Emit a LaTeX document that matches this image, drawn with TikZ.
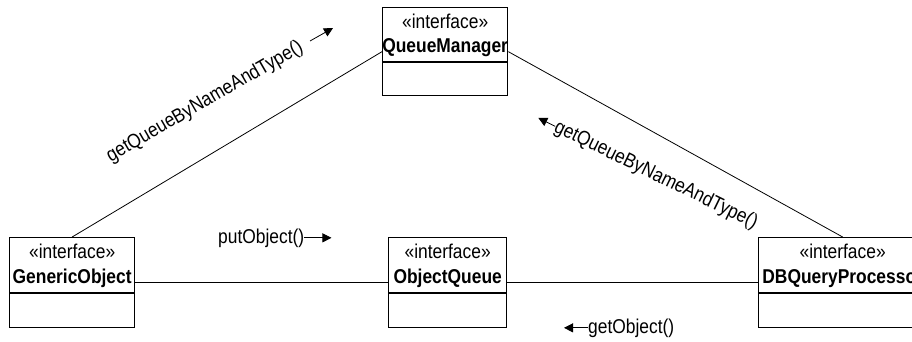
\documentclass[tikz,border=0pt]{standalone}
\usepackage{fontspec}
\setmainfont{Liberation Sans}[FakeStretch=0.87]
\usetikzlibrary{arrows.meta,calc}
\tikzset{
  umlbox/.style={draw, line width=1.3pt, inner sep=0pt, anchor=north west},
  divline/.style={line width=1.3pt},
  conn/.style={line width=0.8pt},
  txt/.style={inner sep=0pt, font=\fontsize{20}{24}\selectfont},
  stereo/.style={txt, anchor=base},
  cname/.style={txt, anchor=base, font=\fontsize{20}{24}\selectfont\bfseries},
  msgarrow/.style={line width=0.8pt, -{Triangle[length=9pt,width=9pt]}}
}
\begin{document}
\begin{tikzpicture}[x=1pt,y=-1pt]
\useasboundingbox (0,0) rectangle (912,341);
\clip (0,0) rectangle (912,341);
\fill[white] (0,0) rectangle (912,341);

% boxes
\node[umlbox, minimum width=125, minimum height=88] (qm) at (382,7) {};
\node[umlbox, minimum width=125, minimum height=90] (go) at (9,237) {};
\node[umlbox, minimum width=118, minimum height=90] (oq) at (388,237) {};
\node[umlbox, minimum width=168, minimum height=90] (db) at (758,237) {};

% dividers
\draw[divline] ($(qm.north west)+(0,55)$) -- ($(qm.north east)+(0,55)$);
\draw[divline] ($(go.north west)+(0,56)$) -- ($(go.north east)+(0,56)$);
\draw[divline] ($(oq.north west)+(0,56)$) -- ($(oq.north east)+(0,56)$);
\draw[divline] ($(db.north west)+(0,56)$) -- ($(db.north east)+(0,56)$);

% texts
\node[stereo] (qms) at ($(qm.north)+(0,21)$) {«interface»};
\node[cname]  (qmn) at ($(qm.north)+(0,45)$) {QueueManager};
\node[stereo] (gos) at ($(go.north)+(0,21)$) {«interface»};
\node[cname]  (gon) at ($(go.north)+(0,46)$) {GenericObject};
\node[stereo] (oqs) at ($(oq.north)+(0,21)$) {«interface»};
\node[cname]  (oqn) at ($(oq.north)+(0,46)$) {ObjectQueue};
\node[stereo] (dbs) at ($(db.north)+(0,21)$) {«interface»};
\node[cname]  (dbn) at ($(db.north)+(0,46)$) {DBQueryProcessor};

% connectors
\draw[conn] (go.north) -- (qm.west);
\draw[conn] (qm.east) -- (db.north);
\draw[conn] (go.east) -- (oq.west);
\draw[conn] (oq.east) -- (db.west);

% messages
\node[txt, anchor=base, rotate=30] (m1) at (207.5,106.5) {getQueueByNameAndType()};
\coordinate (a1) at (310,41);
\draw[msgarrow] (a1) -- ++(23,-13);

\node[txt, anchor=base west, rotate=-26] (m2) at (553,131) {getQueueByNameAndType()};
\draw[msgarrow] (m2.west) -- ++(-17,-8.5);

\node[txt, anchor=base west] (m3) at (218,243) {putObject()};
\draw[msgarrow] (m3.east) -- ++(27,0);

\node[txt, anchor=base west] (m4) at (588,333) {getObject()};
\draw[msgarrow] (m4.west) -- ++(-24,0);
\end{tikzpicture}
\end{document}
